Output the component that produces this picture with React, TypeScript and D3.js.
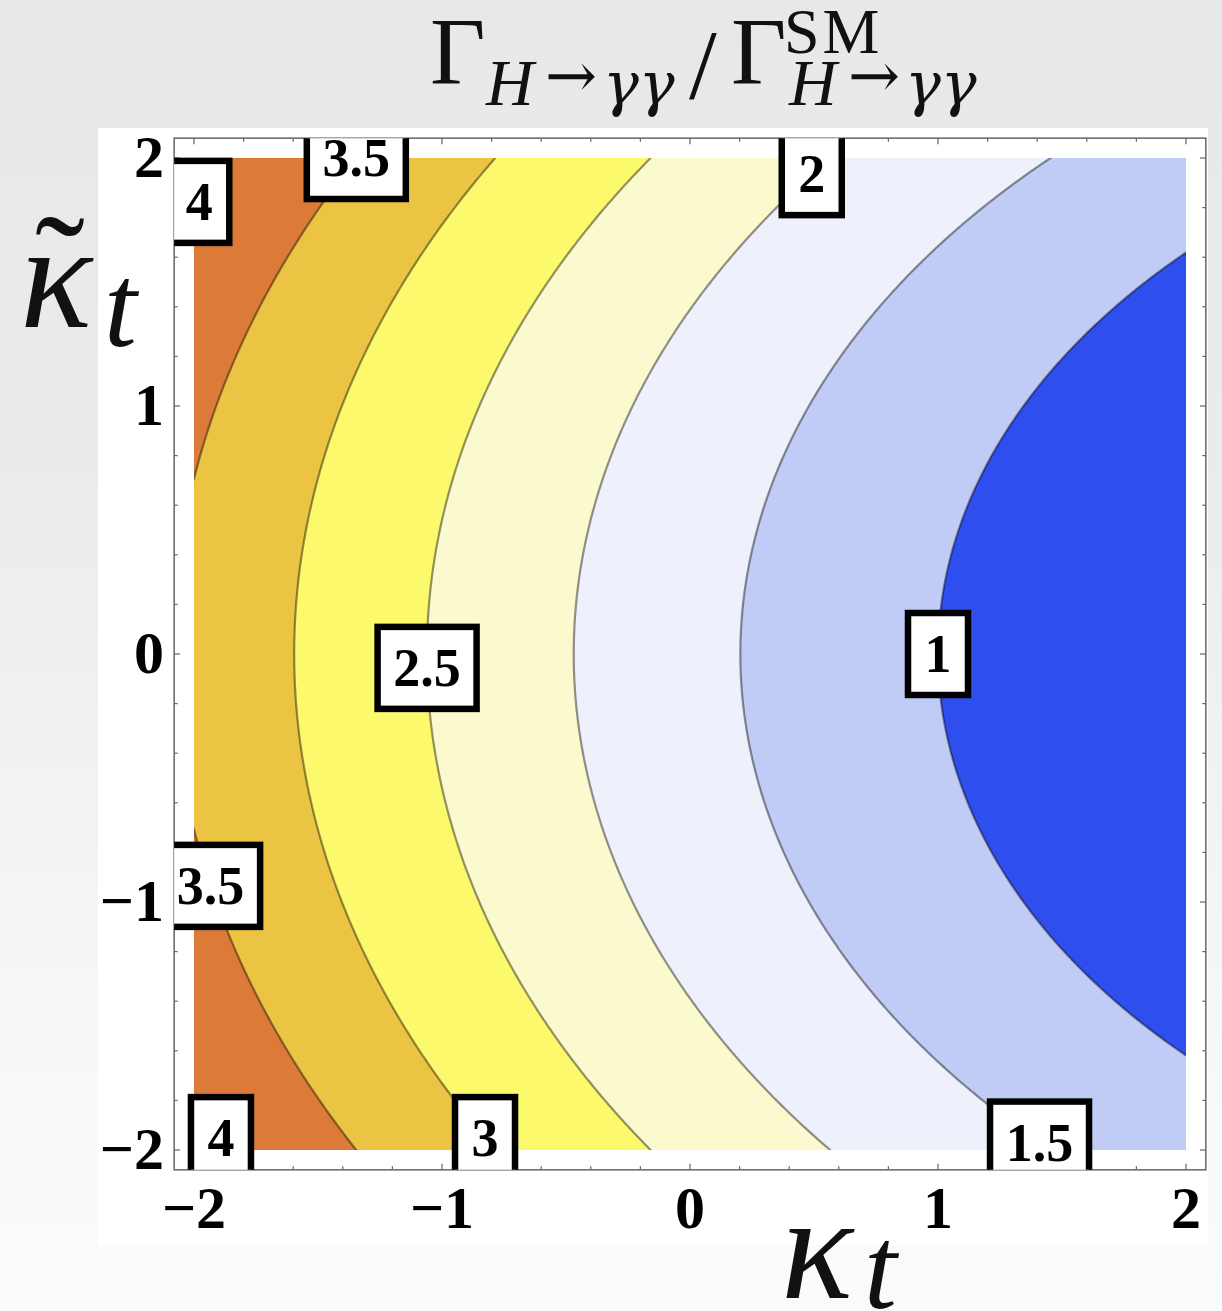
import React from 'react';
import * as d3 from 'd3';

const W = 1222;
const H = 1311;

// Contour levels of the diphoton width ratio
const levels = [1, 1.5, 2, 2.5, 3, 3.5, 4];
// Band fills: first entry is below the lowest level, then one per level (region above it)
const bandColors = ['#2E4EEE', '#C0CCF6', '#EEF1FB', '#FBF9CE', '#FCFA6C', '#ECC444', '#DC7A38', '#CC5A2A'];

// Amplitude coefficients: ratio = (aW - aT*kt)^2 + (aCP*ktt)^2
const ampW = 1.282;
const ampTop = 0.282;
const ampCP = 0.43;

// Axis ticks
const xTicks = [-2, -1, 0, 1, 2];
const yTicks = [-2, -1, 0, 1, 2];
const minorStep = 0.2;

// Inline contour labels: level value and the κ̃_t at which each sits on its curve
const labelLevels = [4, 3.5, 2, 2.5, 1, 3.5, 4, 3, 1.5];
const labelKappaTilde = [1.823, 2.0, 1.935, -0.056, 0, -0.935, -1.952, -1.952, -1.97];

const ratio = (kt: number, ktt: number) => (ampW - ampTop * kt) ** 2 + (ampCP * ktt) ** 2;

const fmtTick = (v: number) => (v < 0 ? '\u2212' + Math.abs(v) : String(v));

export default function App() {
  const xs = d3.scaleLinear().domain([-2, 2]).range([194, 1186]);
  const ys = d3.scaleLinear().domain([-2, 2]).range([1150, 158]);
  const pad = 0.08;
  const fx0 = xs(-2 - pad);
  const fx1 = xs(2 + pad);
  const fy0 = ys(2 + pad);
  const fy1 = ys(-2 - pad);

  // Sample the ratio on a grid and trace filled contours
  const n = 401;
  const step = 4 / (n - 1);
  const values: number[] = new Array(n * n);
  for (let j = 0; j < n; j++) {
    for (let i = 0; i < n; i++) {
      values[j * n + i] = ratio(-2 + i * step, 2 - j * step);
    }
  }
  const contours = d3.contours().size([n, n]).thresholds(levels)(values);
  const proj = d3.geoTransform({
    point(px: number, py: number) {
      this.stream.point(xs(-2 + (px - 0.5) * step), ys(2 - (py - 0.5) * step));
    },
  });
  const path = d3.geoPath(proj);

  const minor = d3.range(-2, 2 + 1e-9, minorStep).map((v) => Math.round(v * 10) / 10);
  const isMajor = (v: number) => Math.abs(v - Math.round(v)) < 1e-6;

  const labels = labelLevels.map((v, i) => {
    const ktt = labelKappaTilde[i];
    const kt = (ampW - Math.sqrt(v - (ampCP * ktt) ** 2)) / ampTop;
    const txt = String(v);
    const tw = txt.split('').reduce((s, c) => s + (c === '.' ? 13 : 26), 0);
    return { cx: xs(kt), cy: ys(ktt), txt, tw };
  });

  const serif = 'Liberation Serif, Times New Roman, serif';
  const dejavu = 'DejaVu Serif, serif';
  const frameColor = '#666';

  return (
    <svg
      width={W}
      height={H}
      viewBox={`0 0 ${W} ${H}`}
      style={{ position: 'absolute', left: 0, top: 0, display: 'block' }}
    >
      <defs>
        <linearGradient id="bg" x1="0" y1="0" x2="0" y2="1">
          <stop offset="0" stopColor="#E7E8EA" />
          <stop offset="0.35" stopColor="#EAEBEC" />
          <stop offset="0.85" stopColor="#F8F9F9" />
          <stop offset="1" stopColor="#FAFBFB" />
        </linearGradient>
        <clipPath id="dataClip">
          <rect x={xs(-2)} y={ys(2)} width={xs(2) - xs(-2)} height={ys(-2) - ys(2)} />
        </clipPath>
        <clipPath id="frameClip">
          <rect x={fx0} y={fy0} width={fx1 - fx0} height={fy1 - fy0} />
        </clipPath>
      </defs>

      <rect x={0} y={0} width={W} height={H} fill="url(#bg)" />
      <rect x={98} y={128} width={1110} height={1117} fill="#fff" />

      {/* filled bands */}
      <g clipPath="url(#dataClip)">
        <rect x={xs(-2)} y={ys(2)} width={xs(2) - xs(-2)} height={ys(-2) - ys(2)} fill={bandColors[0]} />
        {contours.map((c, i) => (
          <path key={'f' + i} d={path(c as any) || ''} fill={bandColors[i + 1]} stroke="none" />
        ))}
        {contours.map((c, i) => (
          <path
            key={'s' + i}
            d={path(c as any) || ''}
            fill="none"
            stroke="#000"
            strokeOpacity={0.42}
            strokeWidth={2.2}
          />
        ))}
      </g>

      {/* frame and ticks */}
      <rect x={fx0} y={fy0} width={fx1 - fx0} height={fy1 - fy0} fill="none" stroke={frameColor} strokeWidth={1.5} />
      {minor.map((v) => {
        const len = isMajor(v) ? 6 : 3.5;
        const px = xs(v);
        const py = ys(v);
        return (
          <g key={'t' + v} stroke={frameColor} strokeWidth={1.2}>
            <line x1={px} x2={px} y1={fy1} y2={fy1 - len} />
            <line x1={px} x2={px} y1={fy0} y2={fy0 + len} />
            <line x1={fx0} x2={fx0 + len} y1={py} y2={py} />
            <line x1={fx1} x2={fx1 - len} y1={py} y2={py} />
          </g>
        );
      })}

      {/* tick labels */}
      {xTicks.map((v) => (
        <text
          key={'xl' + v}
          x={xs(v)}
          y={1228}
          textAnchor="middle"
          fontFamily={serif}
          fontWeight="bold"
          fontSize={60}
        >
          {fmtTick(v)}
        </text>
      ))}
      {yTicks.map((v) => (
        <text
          key={'yl' + v}
          x={164}
          y={ys(v) + 19}
          textAnchor="end"
          fontFamily={serif}
          fontWeight="bold"
          fontSize={60}
        >
          {fmtTick(v)}
        </text>
      ))}

      {/* contour labels */}
      <g clipPath="url(#frameClip)">
        {labels.map((l, i) => (
          <g key={'lb' + i}>
            <rect
              x={l.cx - (l.tw + 34) / 2}
              y={l.cy - 41}
              width={l.tw + 34}
              height={82}
              fill="#fff"
              stroke="#000"
              strokeWidth={6.5}
            />
            <text
              x={l.cx}
              y={l.cy + 18}
              textAnchor="middle"
              fontFamily={serif}
              fontWeight="bold"
              fontSize={54}
            >
              {l.txt}
            </text>
          </g>
        ))}
      </g>

      {/* title */}
      <g fill="#111">
        <text x={430} y={84} fontSize={96} fontFamily={serif}>Γ</text>
        <text x={486} y={105} fontSize={66} fontStyle="italic" fontFamily={serif}>H</text>
        <text x={571} y={97} fontSize={62} textAnchor="middle" fontFamily={dejavu}>→</text>
        <text x={603} y={105} fontSize={60} fontStyle="italic" fontFamily={dejavu}>γγ</text>
        <text x={689} y={98} fontSize={100} fontFamily={serif}>/</text>
        <text x={731} y={84} fontSize={96} fontFamily={serif}>Γ</text>
        <text x={784} y={53} fontSize={64} fontFamily={serif} letterSpacing={3}>SM</text>
        <text x={789} y={105} fontSize={66} fontStyle="italic" fontFamily={serif}>H</text>
        <text x={874} y={97} fontSize={62} textAnchor="middle" fontFamily={dejavu}>→</text>
        <text x={905} y={105} fontSize={60} fontStyle="italic" fontFamily={dejavu}>γγ</text>
      </g>

      {/* axis labels */}
      <g fontFamily={serif} fill="#111" fontStyle="italic">
        <text x={20} y={327} fontSize={150}>κ</text>
        <text x={60} y={318} fontSize={150} textAnchor="middle" fontStyle="normal">˜</text>
        <text x={104} y={346} fontSize={118}>t</text>
        <text x={781} y={1298} fontSize={150}>κ</text>
        <text x={864} y={1308} fontSize={118}>t</text>
      </g>
    </svg>
  );
}
